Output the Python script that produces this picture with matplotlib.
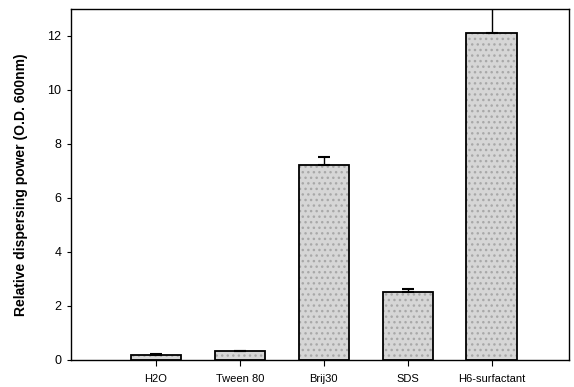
import numpy as np
import matplotlib.pyplot as plt

plt.rcParams['font.family'] = ['Liberation Sans', 'DejaVu Sans']

labels = ['H2O', 'Tween 80', 'Brij30', 'SDS', 'H6-surfactant']
values = [0.18, 0.32, 7.22, 2.52, 12.12]
errors = [0.03, 0.02, 0.3, 0.12, 0.95]

fig = plt.figure(figsize=(5.74, 3.87), dpi=100)
ax = fig.add_axes([0.124, 0.07, 0.867, 0.907])

x = np.arange(len(labels))
# speckled grey fill, then black outline on top
ax.bar(x, values, width=0.6, color='#d6d6d6', edgecolor='#a8a8a8', linewidth=0,
       hatch='...', zorder=2)
ax.bar(x, values, width=0.6, color='none', edgecolor='black', linewidth=1.3, zorder=3)
ax.errorbar(x, values, yerr=[np.zeros(len(errors)), errors], fmt='none',
            ecolor='black', elinewidth=1, capsize=4, capthick=1.5, zorder=4)

ax.set_xlim(-1.01, 4.92)
ax.set_ylim(0, 13)
ax.set_xticks(x)
ax.set_xticklabels(labels, fontsize=8)
ax.set_yticks(np.arange(0, 13, 2))
ax.tick_params(axis='y', labelsize=9, direction='out', length=3, pad=4)
ax.tick_params(axis='x', direction='out', length=4, pad=6)
ax.set_ylabel('Relative dispersing power (O.D. 600nm)', fontsize=10,
              fontweight='bold', labelpad=14)
for s in ax.spines.values():
    s.set_linewidth(1)

fig.savefig('out.png', dpi=100)
